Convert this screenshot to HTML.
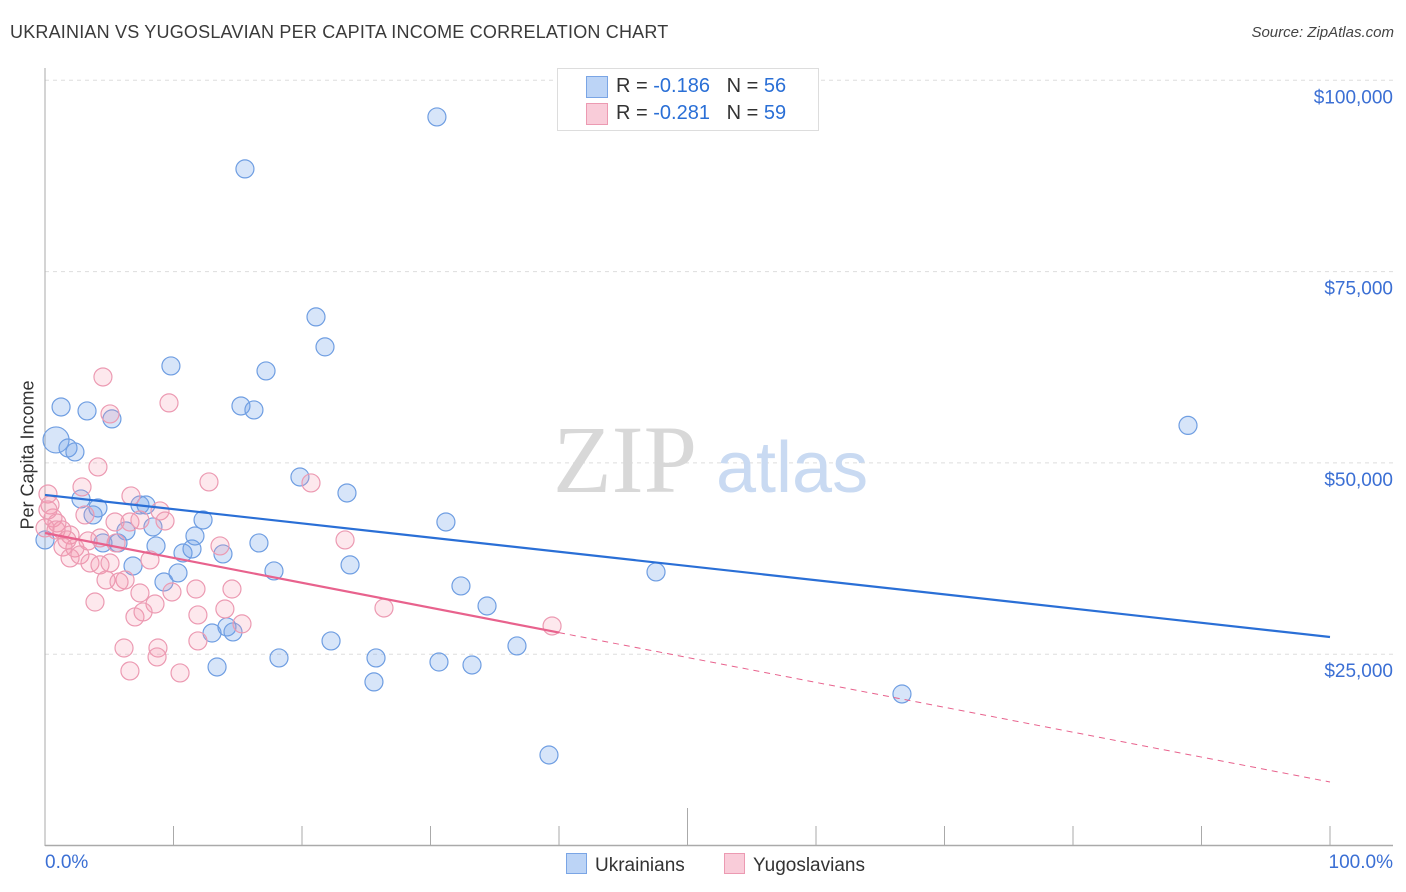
<!DOCTYPE html>
<html><head><meta charset="utf-8"><style>
body{margin:0;background:#fff;font-family:"Liberation Sans",sans-serif}
#wrap{position:relative;width:1406px;height:892px;overflow:hidden}
</style></head><body>
<div id="wrap">
<div style="position:absolute;left:10px;top:22px;font-size:18px;color:#3a3a3a;letter-spacing:0.2px">UKRAINIAN VS YUGOSLAVIAN PER CAPITA INCOME CORRELATION CHART</div>
<div style="position:absolute;right:12px;top:24px;font-size:15px;color:#444;font-style:italic">Source: ZipAtlas.com</div>
<svg id="svg" width="1406" height="892" style="position:absolute;left:0;top:0"></svg>
</div>
<script>
const yTicks=[25000,50000,75000,100000];
const yTickLabels=["$25,000","$50,000","$75,000","$100,000"];
const blueX=[0.86,1.25,3.27,5.21,1.79,2.33,2.8,4.12,3.74,7.39,7.86,8.4,6.3,5.68,8.64,6.85,9.26,10.35,10.74,11.44,11.67,12.3,13.85,9.8,15.25,16.26,17.2,15.56,16.65,17.82,19.84,21.09,21.79,23.5,23.74,13.0,14.16,14.63,13.39,18.21,22.26,25.76,25.6,31.2,32.37,34.4,30.66,33.23,36.73,39.22,30.5,47.55,66.69,88.95,0,4.51];
const blueY=[53000,57310,56790,55750,51950,51430,45290,44110,43200,44500,44500,41630,41110,39540,39150,36530,34440,35620,38230,38750,40450,42540,38100,62670,57440,56920,62020,88420,39540,35880,48160,69080,65160,46070,36670,27770,28560,27910,23330,24510,26730,24510,21380,42280,33920,31300,23980,23590,26080,11830,95210,35750,19800,54900,39930,39540];
const pinkX=[4.51,5.06,9.65,4.12,2.88,6.69,8.95,9.34,12.76,20.7,23.35,0.23,0.39,0.62,0.93,1.32,1.95,2.33,1.4,1.95,2.72,3.5,4.28,5.53,5.45,6.61,7.39,4.28,5.06,6.23,4.75,3.89,8.17,9.88,11.75,7.39,7.0,8.56,7.63,14.55,14.0,11.9,13.62,15.33,26.38,39.46,6.15,8.79,8.72,6.61,10.51,0.23,0.86,0,1.71,3.11,3.35,5.76,11.9];
const pinkY=[61230,56400,57840,49470,46860,45680,43720,42410,47510,47380,39930,45940,44500,42800,42150,41240,40580,38880,39010,37580,37970,36920,40190,39540,42280,42280,42540,36670,36920,34700,34700,31820,37320,33130,33520,33000,29870,31560,30520,33520,30910,30130,39150,28960,31040,28690,25810,25810,24640,22810,22550,43850,41240,41500,39930,43200,39800,34440,26730];
const blueTrend=[45810,27250];
const pinkTrend=[40840,8300];
const pinkSolidEnd=40;

const NS="http://www.w3.org/2000/svg";
const svg=document.getElementById('svg');
const X0=45,X1=1330,YB=845.5,YPX=191.3/25000;
const sx=p=>X0+(X1-X0)*p/100;
const sy=v=>YB-v*YPX;
function mk(tag,attrs,parent){const e=document.createElementNS(NS,tag);for(const k in attrs)e.setAttribute(k,attrs[k]);(parent||svg).appendChild(e);return e;}

yTicks.forEach((t,i)=>{
  const g=mk('line',{x1:45,x2:1393,y1:sy(t),y2:sy(t),stroke:'#ddd','stroke-dasharray':'4,4'});
  
  
  const tx=mk('text',{x:1393,y:sy(t)+23,'text-anchor':'end','font-size':19,fill:'#3b6fd4','font-family':'Liberation Sans, sans-serif'});
  tx.textContent=yTickLabels[i];
  
  
});
const ya=mk('line',{x1:45,x2:45,y1:68,y2:846,stroke:'#aaa'});


const xa=mk('line',{x1:45,x2:1393,y1:845.5,y2:845.5,stroke:'#aaa','stroke-width':1.5});


for(let i=0;i<=10;i++){
  const tk=mk('line',{x1:sx(i*10),x2:sx(i*10),y1:i==5?808:826,y2:845,stroke:'#aaa'});
  
  
}
const wm=mk('text',{x:553,y:492,'font-size':96,fill:'#d8d8d8','font-family':'Liberation Serif, serif'});
wm.textContent='ZIP';


const wm2=mk('text',{x:716,y:492,'font-size':72,fill:'#c9daf2','font-family':'Liberation Sans, sans-serif'});
wm2.textContent='atlas';



blueX.forEach((x,i)=>{
  const c=mk('circle',{cx:sx(x),cy:sy(blueY[i]),r:i==0?13:9,fill:'rgba(110,160,235,0.28)',stroke:'#6f9ee2','stroke-width':1.2});
  
  
});
pinkX.forEach((x,i)=>{
  const c=mk('circle',{cx:sx(x),cy:sy(pinkY[i]),r:9,fill:'rgba(245,150,175,0.22)',stroke:'#ec9ab2','stroke-width':1.2});
  
  
});
const bt=mk('line',{x1:sx(0),y1:sy(blueTrend[0]),x2:sx(100),y2:sy(blueTrend[1]),stroke:'#2a6fd6','stroke-width':2.2});


const pv=p=>pinkTrend[0]+(pinkTrend[1]-pinkTrend[0])*p/100;
const pt=mk('line',{x1:sx(0),y1:sy(pv(0)),x2:sx(pinkSolidEnd),y2:sy(pv(pinkSolidEnd)),stroke:'#e8628d','stroke-width':2.2});


const pd=mk('line',{x1:sx(pinkSolidEnd),y1:sy(pv(pinkSolidEnd)),x2:sx(100),y2:sy(pv(100)),stroke:'#e8628d','stroke-width':1,'stroke-dasharray':'6,5'});


</script>
<div style="position:absolute;left:28px;top:455px;transform:translate(-50%,-50%) rotate(-90deg);font-size:18px;color:#333;white-space:nowrap">Per Capita Income</div>
<div style="position:absolute;left:45px;top:852px;font-size:19px;color:#3b6fd4">0.0%</div>
<div style="position:absolute;right:13px;top:852px;font-size:19px;color:#3b6fd4">100.0%</div>
<div style="position:absolute;left:557px;top:68px;width:260px;height:61px;border:1px solid #ddd;background:#fff;font-size:20px;color:#333">
 <div style="position:absolute;left:28px;top:7px;width:20px;height:20px;background:#bcd4f6;border:1px solid #7aa5e5"></div>
 <div style="position:absolute;left:58px;top:6px">R = <span style="color:#2a6fd6">-0.186</span>&nbsp;&nbsp;&nbsp;N = <span style="color:#2a6fd6">56</span></div>
 <div style="position:absolute;left:28px;top:34px;width:20px;height:20px;background:#f9ccd9;border:1px solid #ec9ab2"></div>
 <div style="position:absolute;left:58px;top:33px">R = <span style="color:#2a6fd6">-0.281</span>&nbsp;&nbsp;&nbsp;N = <span style="color:#2a6fd6">59</span></div>
</div>
<div style="position:absolute;left:566px;top:853px;font-size:19px;color:#333">
 <span style="display:inline-block;width:19px;height:19px;background:#bcd4f6;border:1px solid #7aa5e5;vertical-align:-3px;margin-right:8px"></span>Ukrainians</div>
<div style="position:absolute;left:724px;top:853px;font-size:19px;color:#333">
 <span style="display:inline-block;width:19px;height:19px;background:#f9ccd9;border:1px solid #ec9ab2;vertical-align:-3px;margin-right:8px"></span>Yugoslavians</div>
</body></html>
